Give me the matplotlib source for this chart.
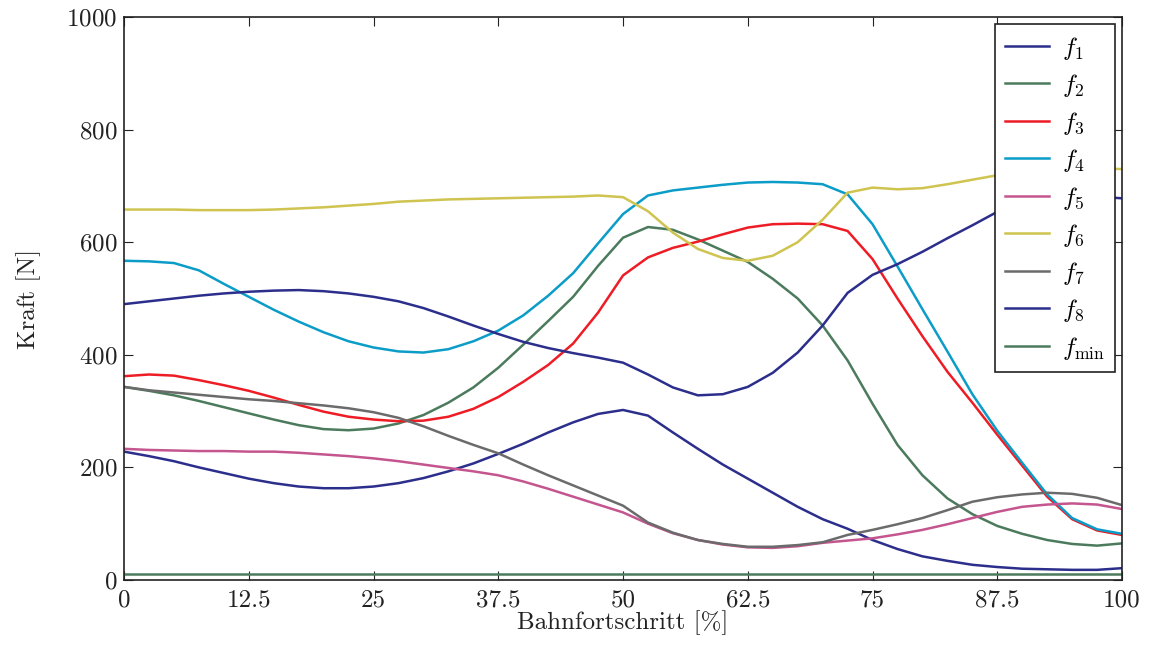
import matplotlib
matplotlib.use('Agg')
import matplotlib.pyplot as plt

plt.rcParams['font.family'] = ['cmr10', 'DejaVu Serif']
plt.rcParams['mathtext.fontset'] = 'cm'
plt.rcParams['axes.formatter.use_mathtext'] = True

# Bahnfortschritt in %
progress = [0, 2.5, 5, 7.5, 10, 12.5, 15, 17.5, 20, 22.5, 25, 27.5, 30, 32.5, 35, 37.5,
            40, 42.5, 45, 47.5, 50, 52.5, 55, 57.5, 60, 62.5, 65, 67.5, 70, 72.5, 75,
            77.5, 80, 82.5, 85, 87.5, 90, 92.5, 95, 97.5, 100]

# Seilkraefte in N
f1 = [228, 220, 211, 200, 190, 180, 172, 166, 163, 163, 166, 172, 181, 193, 207, 224,
      242, 262, 280, 295, 302, 292, 262, 233, 205, 180, 155, 130, 108, 91, 71,
      55, 42, 34, 27, 23, 20, 19, 18, 18, 21]
f2 = [343, 336, 328, 318, 307, 296, 285, 275, 268, 266, 269, 278, 293, 315, 342, 377,
      418, 460, 503, 558, 608, 627, 622, 605, 585, 565, 535, 500, 452, 390, 313,
      240, 186, 145, 117, 96, 82, 71, 64, 61, 65]
f3 = [362, 365, 363, 355, 346, 336, 324, 311, 299, 290, 285, 282, 283, 290, 304, 325,
      352, 382, 420, 475, 541, 573, 590, 601, 614, 626, 632, 633, 632, 620, 570,
      500, 433, 370, 315, 258, 203, 148, 108, 88, 80]
f4 = [567, 566, 563, 550, 526, 503, 480, 459, 440, 424, 413, 406, 404, 410, 424, 443,
      470, 505, 545, 598, 650, 683, 692, 697, 702, 706, 707, 706, 703, 685, 632,
      557, 481, 406, 330, 265, 208, 152, 110, 90, 82]
f5 = [233, 231, 230, 229, 229, 228, 228, 226, 223, 220, 216, 211, 205, 199, 193, 186,
      175, 162, 148, 134, 120, 100, 83, 71, 63, 58, 57, 60, 66, 70, 74,
      81, 89, 99, 110, 121, 130, 134, 136, 134, 126]
f6 = [658, 658, 658, 657, 657, 657, 658, 660, 662, 665, 668, 672, 674, 676, 677, 678,
      679, 680, 681, 683, 680, 655, 617, 588, 572, 567, 576, 600, 640, 688, 697,
      694, 696, 703, 711, 719, 724, 727, 729, 731, 730]
f7 = [343, 337, 333, 329, 325, 321, 318, 314, 310, 305, 298, 288, 273, 256, 240, 225,
      205, 186, 168, 150, 132, 102, 84, 71, 64, 59, 59, 62, 67, 80, 89,
      99, 110, 124, 139, 147, 152, 155, 153, 146, 133]
f8 = [490, 495, 500, 505, 509, 512, 514, 515, 513, 509, 503, 495, 483, 468, 452, 437,
      423, 412, 403, 395, 386, 365, 342, 328, 330, 343, 368, 404, 452, 510, 542,
      561, 583, 607, 630, 654, 664, 672, 678, 681, 678]
f_min = [10] * len(progress)

series = [f1, f2, f3, f4, f5, f6, f7, f8, f_min]
labels = ['$f_1$', '$f_2$', '$f_3$', '$f_4$', '$f_5$', '$f_6$', '$f_7$', '$f_8$',
          r'$f_{\mathrm{min}}$']
colors = ['#2c2e8c', '#4b7b5c', '#ee1c25', '#0b9cc8', '#c4558f', '#cfc44f',
          '#6b6b6b', '#2c2e8c', '#4b7b5c']

fig = plt.figure(figsize=(11.54, 6.45), dpi=100)
ax = fig.add_axes([0.1075, 0.1008, 0.8648, 0.8728])

for vals, lab, col in zip(series, labels, colors):
    ax.plot(progress, vals, color=col, lw=1.8, label=lab)

ax.set_xlim(0, 100)
ax.set_ylim(0, 1000)
ax.set_xticks([0, 12.5, 25, 37.5, 50, 62.5, 75, 87.5, 100])
ax.set_xticklabels(['0', '12.5', '25', '37.5', '50', '62.5', '75', '87.5', '100'])
ax.set_yticks([0, 200, 400, 600, 800, 1000])
ax.tick_params(direction='in', length=6.5, width=0.8, top=True, right=True,
               labelsize=18, colors='#222222')
ax.tick_params(axis='x', pad=7)
ax.tick_params(axis='y', pad=5)
for sp in ax.spines.values():
    sp.set_linewidth(1.2)
    sp.set_color('#222222')

ax.set_xlabel('Bahnfortschritt [%]', fontsize=18, labelpad=-1, color='#222222')
ax.set_ylabel('Kraft [N]', fontsize=18, labelpad=18, color='#222222')

leg = ax.legend(loc='upper right', bbox_to_anchor=(1 - 7 / 998, 1 - 7 / 563),
                borderaxespad=0, fontsize=18, handlelength=1.75, handletextpad=0.5,
                labelspacing=0.42, borderpad=0.42,
                fancybox=False, framealpha=1, edgecolor='#222222')
leg.get_frame().set_linewidth(1.2)

fig.savefig('out.png', dpi=100)
